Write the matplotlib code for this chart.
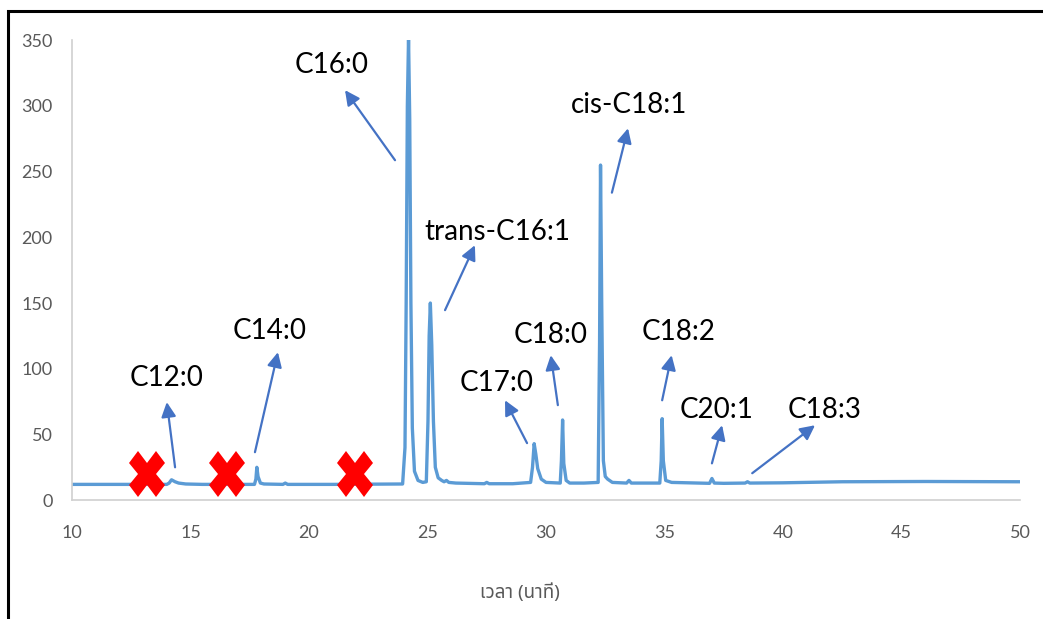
import matplotlib.pyplot as plt
from matplotlib import font_manager
from matplotlib.patches import Rectangle
from matplotlib.markers import MarkerStyle
from matplotlib.transforms import Affine2D

# chromatogram trace: retention time (min) and detector signal
time_min = [10.0, 12.0, 14.0, 14.1, 14.2, 14.35, 14.5, 14.8, 15.5, 17.7,
            17.76, 17.8, 17.85, 17.95, 18.1, 18.9, 19.0, 19.1, 21.0, 23.95,
            24.05, 24.1, 24.15, 24.2, 24.25, 24.3, 24.36, 24.45, 24.6, 24.8,
            24.95, 25.02, 25.07, 25.12, 25.18, 25.25, 25.33, 25.45, 25.6,
            25.7, 25.8, 25.9, 26.2, 27.4, 27.5, 27.6, 28.6, 29.35, 29.43,
            29.5, 29.57, 29.65, 29.8, 30.0, 30.6, 30.65, 30.7, 30.75, 30.85,
            31.0, 31.6, 32.2, 32.26, 32.3, 32.35, 32.42, 32.5, 32.6, 32.8,
            33.4, 33.5, 33.6, 34.8, 34.86, 34.9, 34.95, 35.05, 35.3, 36.9,
            37.0, 37.1, 37.5, 38.4, 38.5, 38.6, 40.0, 42.5, 46.0, 50.0]
signal = [12, 12, 12, 13, 15.5, 14, 13, 12.3, 12, 12,
          16, 25, 18, 13, 12.3, 12, 13, 12, 12, 12.3,
          40, 150, 300, 352, 290, 150, 55, 22, 15, 13.5,
          14, 60, 125, 150, 118, 60, 25, 17, 15,
          14, 15, 13.5, 13, 12.5, 13.5, 12.5, 12.5, 13.5, 25,
          43, 35, 24, 16, 13.5, 13, 30, 61, 28, 15,
          13, 13, 13.5, 120, 255, 150, 30, 18, 16, 13.5,
          13, 15, 13, 13, 30, 62, 30, 15, 13.5, 12.8,
          16.5, 13, 12.8, 13, 14, 13, 13.2, 14, 14.2, 14]

# identified fatty acid peaks
peak_names = ["C12:0", "C14:0", "C16:0", "trans-C16:1", "C17:0", "C18:0",
              "cis-C18:1", "C18:2", "C20:1", "C18:3"]
# label text positions and arrow tail/head positions in data units
label_xy = [(14.0, 93), (18.35, 129), (20.97, 331), (27.93, 204), (27.9, 89),
            (30.2, 125.5), (33.5, 300.5), (35.6, 128), (37.2, 68.5),
            (41.77, 68.5)]
arrow_tail = [(14.35, 25), (17.72, 36.5), (23.63, 258.7), (25.74, 144.6),
              (29.2, 43.4), (30.5, 72.3), (32.78, 234), (34.9, 76),
              (37.0, 28), (38.7, 20.5)]
arrow_head = [(14.0, 74.6), (18.69, 112.6), (21.52, 312), (27.0, 194),
              (28.27, 76), (30.2, 110.3), (33.46, 283), (35.3, 110.3),
              (37.43, 57), (41.35, 57)]

# peaks that were not detected
missing_x = [13.15, 16.53, 21.94]
missing_y = [19.8, 19.8, 19.8]

x_ticks = [10, 15, 20, 25, 30, 35, 40, 45, 50]
y_ticks = [0, 50, 100, 150, 200, 250, 300, 350]
x_label = "เวลา (นาที)"

# pick an installed family with Thai glyphs
installed = {f.name for f in font_manager.fontManager.ttflist}
thai_font = next((name for name in ["Noto Sans Thai", "Noto Sans Thai UI",
                                    "Sarabun", "Prompt", "Kanit",
                                    "Bai Jamjuree", "Athiti"]
                  if name in installed), "DejaVu Sans")

fig = plt.figure(figsize=(10.43, 6.19), dpi=100)
ax = fig.add_axes([0.069, 0.192, 0.909, 0.743])

ax.plot(time_min, signal, color="#5B9BD5", lw=2.4, solid_joinstyle="round",
        zorder=2)

x_marker = MarkerStyle("X", transform=Affine2D().scale(0.8, 1.0))
ax.plot(missing_x, missing_y, ls="none", marker=x_marker, ms=33,
        color="#FF0000", markeredgewidth=0, zorder=4)

for name, txt, tail, head in zip(peak_names, label_xy, arrow_tail,
                                 arrow_head):
    ax.annotate("", xy=head, xytext=tail,
                arrowprops=dict(arrowstyle="-|>", color="#4472C4", lw=1.6,
                                mutation_scale=22, shrinkA=0, shrinkB=0),
                zorder=3)
    ax.text(txt[0], txt[1], name, ha="center", va="center", fontsize=20,
            family=["Lato", "DejaVu Sans"], color="black", zorder=5)

ax.set_xlim(10, 50)
ax.set_ylim(0, 350)
ax.set_xticks(x_ticks)
ax.set_yticks(y_ticks)
for side in ["top", "right"]:
    ax.spines[side].set_visible(False)
for side in ["left", "bottom"]:
    ax.spines[side].set_color("#D0D0D0")
    ax.spines[side].set_linewidth(1.2)
ax.tick_params(length=0, labelsize=13, labelcolor="#595959")
ax.tick_params(axis="x", pad=18)
ax.tick_params(axis="y", pad=14)
for lbl in ax.get_xticklabels() + ax.get_yticklabels():
    lbl.set_family(["Lato", "DejaVu Sans"])
ax.set_xlabel(x_label, fontsize=13.5, color="#595959",
              family=[thai_font, "DejaVu Sans"])
ax.xaxis.set_label_coords(0.4726, -0.18, transform=ax.transAxes)

# outer frame around the chart
fig.patches.append(Rectangle((8 / 1043, -0.1), 1.2, 1.0 - 11 / 619 + 0.1,
                             transform=fig.transFigure, fill=False,
                             edgecolor="black", lw=2.2, clip_on=False))

fig.savefig("out.png", dpi=100)
